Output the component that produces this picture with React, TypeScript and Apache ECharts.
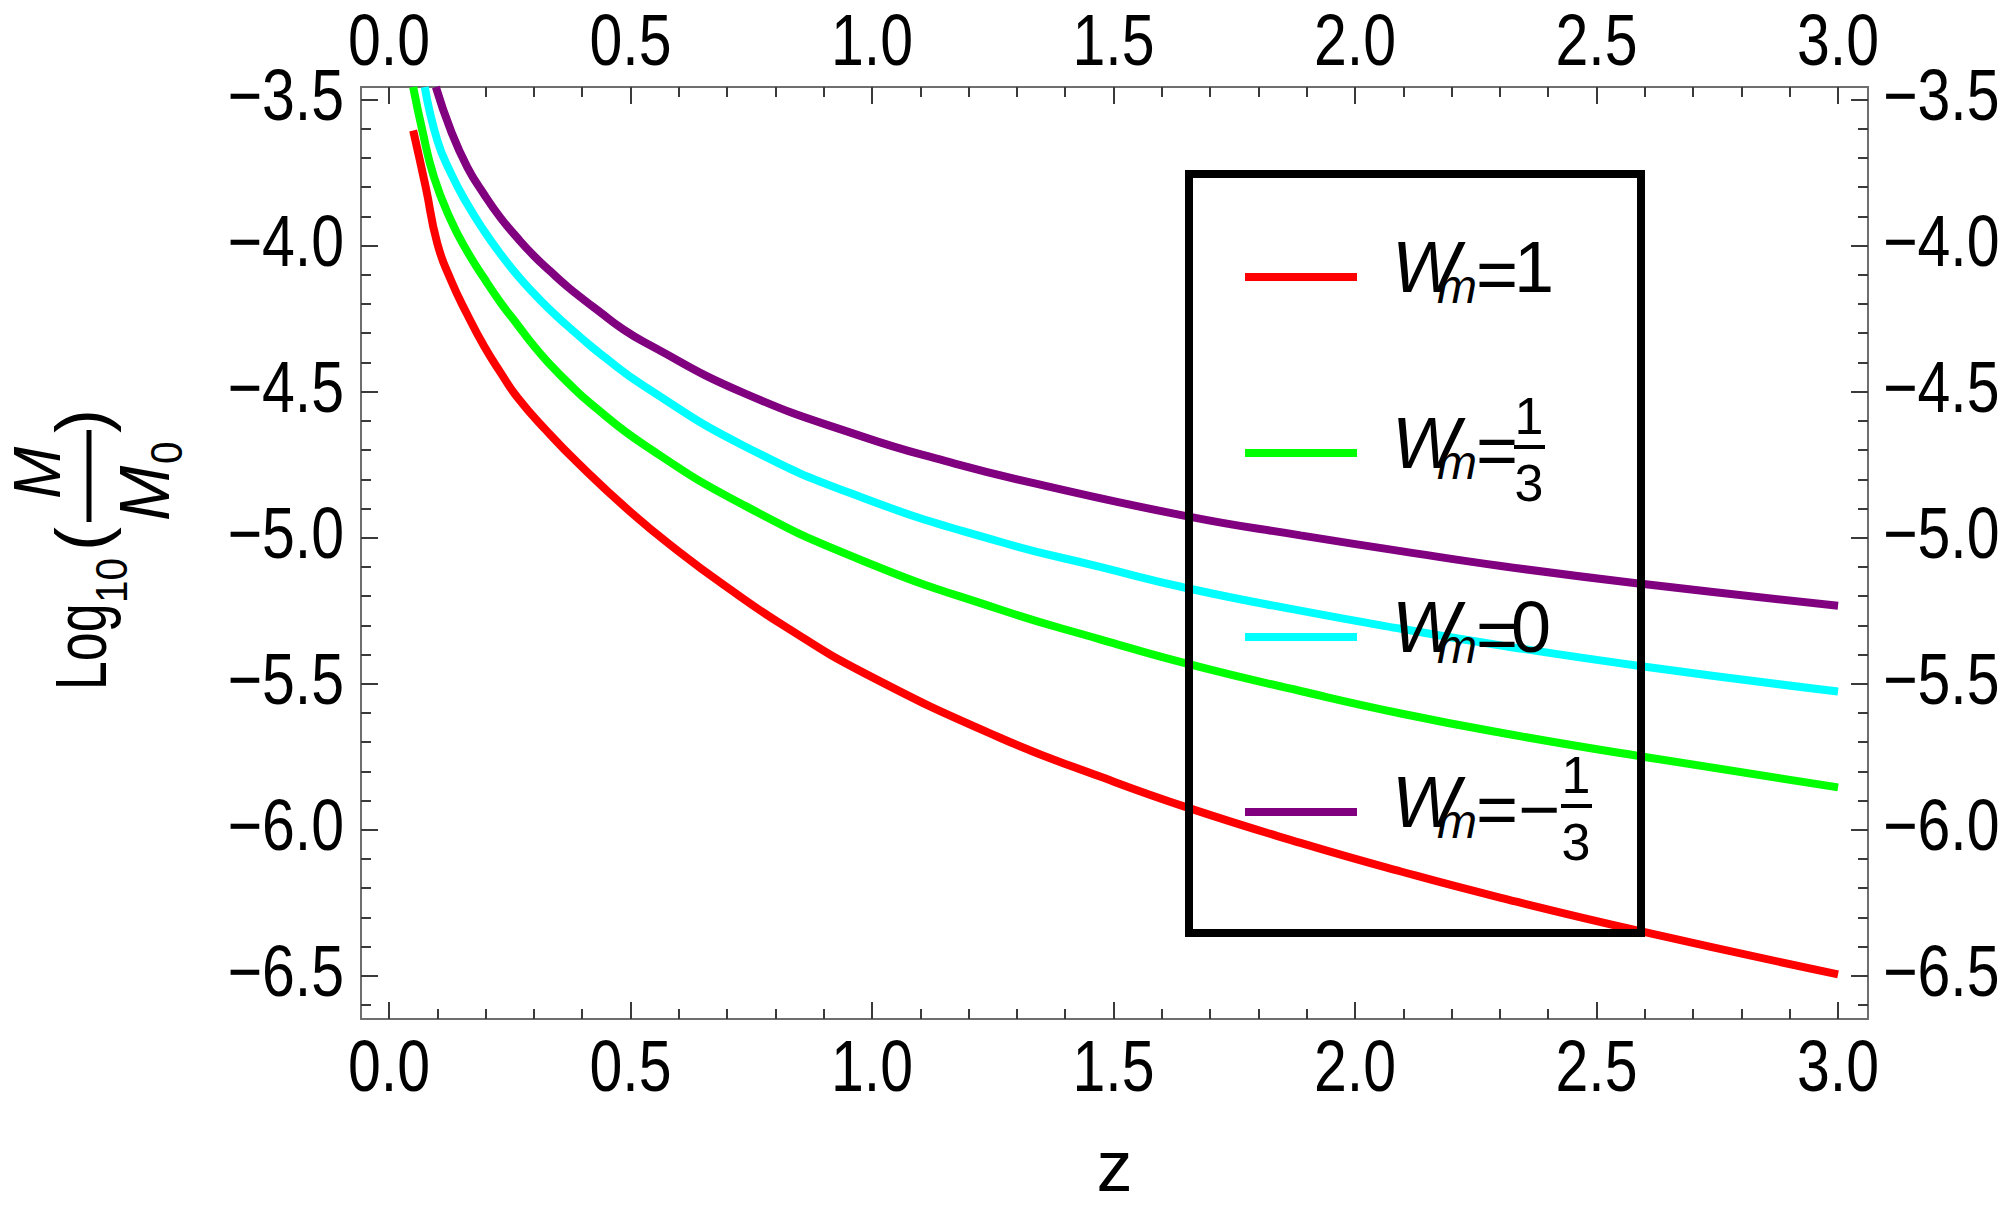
import React, { useEffect, useRef } from "react";
import * as echarts from "echarts";

// ---- data: [z, log10(M/M0)] ----
const W_ONE = [
  [0.05, -3.606], [0.076, -3.8], [0.1, -3.993], [0.128, -4.118], [0.162, -4.236],
  [0.197, -4.345], [0.231, -4.435], [0.266, -4.52], [0.324, -4.63], [0.392, -4.746],
  [0.5, -4.912], [0.598, -5.045], [0.7, -5.17], [0.818, -5.302], [0.982, -5.462],
  [1.265, -5.685], [1.472, -5.818], [1.658, -5.927], [1.887, -6.045], [2.095, -6.143],
  [2.302, -6.233], [2.593, -6.348], [3.0, -6.495],
];
const W_THIRD = [
  [0.05, -3.457], [0.069, -3.606], [0.093, -3.765], [0.128, -3.913], [0.162, -4.02],
  [0.197, -4.112], [0.231, -4.195], [0.266, -4.271], [0.3, -4.344], [0.334, -4.408],
  [0.369, -4.467], [0.417, -4.54], [0.529, -4.683], [0.735, -4.889], [0.982, -5.08],
  [1.265, -5.246], [1.472, -5.348], [1.658, -5.434], [1.887, -5.525], [2.095, -5.602],
  [2.302, -5.668], [2.593, -5.749], [3.0, -5.855],
];
const W_ZERO = [
  [0.074, -3.457], [0.1, -3.64], [0.128, -3.752], [0.162, -3.858], [0.197, -3.95],
  [0.231, -4.029], [0.266, -4.102], [0.3, -4.164], [0.334, -4.221], [0.369, -4.274],
  [0.403, -4.323], [0.438, -4.371], [0.529, -4.482], [0.735, -4.686], [0.982, -4.864],
  [1.265, -5.014], [1.472, -5.1], [1.658, -5.175], [1.887, -5.25], [2.095, -5.312],
  [2.302, -5.369], [2.593, -5.44], [3.0, -5.527],
];
const W_NEG_THIRD = [
  [0.097, -3.457], [0.128, -3.606], [0.162, -3.731], [0.197, -3.825], [0.231, -3.905],
  [0.266, -3.974], [0.3, -4.035], [0.334, -4.088], [0.369, -4.14], [0.403, -4.185],
  [0.438, -4.229], [0.479, -4.28], [0.529, -4.331], [0.735, -4.505], [0.982, -4.655],
  [1.153, -4.738], [1.323, -4.809], [1.656, -4.928], [1.887, -4.992], [2.095, -5.046],
  [2.302, -5.097], [2.593, -5.158], [3.0, -5.233],
];

const X_MAJOR = [0, 0.5, 1, 1.5, 2, 2.5, 3];
const X_MINOR = [
  0.1, 0.2, 0.3, 0.4, 0.6, 0.7, 0.8, 0.9, 1.1, 1.2, 1.3, 1.4,
  1.6, 1.7, 1.8, 1.9, 2.1, 2.2, 2.3, 2.4, 2.6, 2.7, 2.8, 2.9,
];
const Y_MAJOR = [-6.5, -6.0, -5.5, -5.0, -4.5, -4.0, -3.5];
const Y_MINOR = [
  -6.6, -6.4, -6.3, -6.2, -6.1, -5.9, -5.8, -5.7, -5.6, -5.4, -5.3, -5.2, -5.1,
  -4.9, -4.8, -4.7, -4.6, -4.4, -4.3, -4.2, -4.1, -3.9, -3.8, -3.7, -3.6,
];
const X_RANGE = [-0.058, 3.062];
const Y_RANGE = [-6.648, -3.457];

const SERIES_NAMES = ["Wm=1", "Wm=1/3", "Wm=0", "Wm=-1/3"];
const SERIES_COLORS = ["#ff0000", "#00ff00", "#00ffff", "#800080"];
const SERIES_DATA = [W_ONE, W_THIRD, W_ZERO, W_NEG_THIRD];
// legend values: [whole part after "=", numerator, denominator]
const LEGEND_VALUES = [["1", "", ""], ["", "1", "3"], ["0", "", ""], ["\u2212", "1", "3"]];
const LEGEND_ROWS = [277, 453, 637, 812];

const FONT = "'Liberation Sans', Arial, Helvetica, sans-serif";
const FRAME = "#6e6e6e";
const TICK = "#3a3a3a";
const NARROW = 0.82;

const fmt = (v: number) => (v < 0 ? "\u2212" : "") + Math.abs(v).toFixed(1);

function axisPair(position: string, majors: number[], minors: number[], range: number[]) {
  const major = {
    type: "value",
    position,
    min: range[0],
    max: range[1],
    axisLine: { show: true, onZero: false, lineStyle: { color: FRAME, width: 2 } },
    axisTick: { show: true, inside: true, length: 17, customValues: majors, lineStyle: { color: TICK, width: 2 } },
    axisLabel: { show: false },
    splitLine: { show: false },
  } as any;
  const minor = {
    type: "value",
    position,
    min: range[0],
    max: range[1],
    axisLine: { show: false, onZero: false },
    axisTick: { show: true, inside: true, length: 10, customValues: minors, lineStyle: { color: TICK, width: 2 } },
    axisLabel: { show: false },
    splitLine: { show: false },
  } as any;
  return [major, minor];
}

function tickText(text: string, x: number, y: number, align: string) {
  return {
    type: "text",
    x,
    y,
    scaleX: NARROW,
    style: { text, fontSize: 72, lineHeight: 56, fontFamily: FONT, fill: "#000", align, verticalAlign: "middle" },
    z: 50,
  };
}

function legendEntry(i: number, ly: number) {
  const color = SERIES_COLORS[i];
  const [whole, num, den] = LEGEND_VALUES[i];
  const txt = (text: string, x: number, y: number, fs: number, extra: any = {}) => ({
    type: "text", x, y,
    style: { text, fontSize: fs, lineHeight: Math.round(fs * 0.8), fontFamily: FONT, fill: "#000", align: "left", verticalAlign: "middle", ...extra },
    z: 102,
  });
  const els: any[] = [
    { type: "line", shape: { x1: 1245, y1: ly, x2: 1357, y2: ly }, style: { stroke: color, lineWidth: 8 }, z: 101 },
    txt("W", 1392, ly - 10, 72, { fontStyle: "italic" }),
    txt("m", 1437, ly + 9, 48, { fontStyle: "italic" }),
    txt("=", 1476, ly - 3, 72),
  ];
  let fracX = 1529;
  if (whole === "\u2212") {
    els.push(txt("\u2212", 1518, ly - 3, 72));
    fracX = 1576;
  } else if (whole) {
    els.push(txt(whole, whole === "1" ? 1514 : 1511, ly - 10, 72));
  }
  if (num) {
    const digit = (t: string, y: number) => ({
      type: "text", x: fracX, y, z: 102,
      style: { text: t, fontSize: 52, lineHeight: 40, fontFamily: FONT, fill: "#000", align: "center", verticalAlign: "middle" },
    });
    els.push(
      digit(num, ly - 37),
      { type: "line", shape: { x1: fracX - 15, y1: ly - 6, x2: fracX + 16, y2: ly - 6 }, style: { stroke: "#000", lineWidth: 4 }, z: 102 },
      digit(den, ly + 30),
    );
  }
  return els;
}

function yLabel() {
  const t = (text: string, x: number, y: number, fontSize: number, sx: number, opts: any = {}) => ({
    type: "text", x, y, scaleX: sx,
    style: { text, fontSize, lineHeight: Math.round(fontSize * 0.75), fontFamily: FONT, fill: "#000", align: "left", verticalAlign: "middle", ...opts },
  });
  return {
    type: "group",
    x: 108,
    y: 690,
    rotation: Math.PI / 2,
    children: [
      t("Log", 0, -27, 72, 0.72),
      t("10", 87, 3, 45, 0.9),
      t("(", 139, -27, 72, 1),
      { type: "line", shape: { x1: 168, y1: -19, x2: 260, y2: -19 }, style: { stroke: "#000", lineWidth: 5 } },
      t("M", 217, -71, 66, 0.95, { align: "center", fontStyle: "italic" }),
      t("M", 169, 36, 70, 0.95, { fontStyle: "italic" }),
      t("0", 226, 58, 45, 0.9),
      t(")", 257, -27, 72, 1),
    ],
  };
}

export default function App() {
  const ref = useRef<HTMLDivElement>(null);
  useEffect(() => {
    if (!ref.current) return;
    const chart = echarts.init(ref.current, undefined, { renderer: "svg" });
    const [xb, xbm] = axisPair("bottom", X_MAJOR, X_MINOR, X_RANGE);
    const [xt, xtm] = axisPair("top", X_MAJOR, X_MINOR, X_RANGE);
    const [yl, ylm] = axisPair("left", Y_MAJOR, Y_MINOR, Y_RANGE);
    const [yr, yrm] = axisPair("right", Y_MAJOR, Y_MINOR, Y_RANGE);
    xb.name = "z";
    xb.nameLocation = "middle";
    xb.nameGap = 119;
    xb.nameTextStyle = { fontSize: 72, lineHeight: 56, fontFamily: FONT, color: "#000" };
    chart.setOption({
      animation: false,
      backgroundColor: "#fff",
      grid: { left: 361, right: 132, top: 87, bottom: 196, containLabel: false, outerBoundsMode: "none" },
      xAxis: [xb, xbm, xt, xtm],
      yAxis: [yl, ylm, yr, yrm],
      series: SERIES_DATA.map((d, i) => ({
        name: SERIES_NAMES[i],
        type: "line",
        data: d,
        xAxisIndex: 0,
        yAxisIndex: 0,
        showSymbol: false,
        smooth: 0.5,
        clip: true,
        lineStyle: { color: SERIES_COLORS[i], width: 8 },
        itemStyle: { color: SERIES_COLORS[i] },
        z: 5,
      })),
    });

    // tick labels placed through the axes' own scales
    const px = (v: number) => chart.convertToPixel({ xAxisIndex: 0 }, v) as number;
    const py = (v: number) => chart.convertToPixel({ yAxisIndex: 0 }, v) as number;
    const left = px(X_RANGE[0]);
    const right = px(X_RANGE[1]);
    const bottom = py(Y_RANGE[0]);
    const top = py(Y_RANGE[1]);
    const labels: any[] = [];
    X_MAJOR.forEach((v) => {
      labels.push(tickText(fmt(v), px(v), bottom + 47, "center"));
      labels.push(tickText(fmt(v), px(v), top - 47, "center"));
    });
    Y_MAJOR.forEach((v) => {
      labels.push(tickText(fmt(v), left - 17, py(v) - 5, "right"));
      labels.push(tickText(fmt(v), right + 15, py(v) - 5, "left"));
    });

    const legendEls: any[] = [
      { type: "rect", shape: { x: 1189, y: 174, width: 452, height: 759 }, style: { fill: "none", stroke: "#000", lineWidth: 8 }, z: 100 },
    ];
    LEGEND_ROWS.forEach((ly, i) => legendEls.push(...legendEntry(i, ly)));
    chart.setOption({ graphic: [yLabel(), ...labels, ...legendEls] });
    return () => chart.dispose();
  }, []);
  return <div ref={ref} style={{ position: "absolute", left: 0, top: 0, width: 2000, height: 1215 }} />;
}
